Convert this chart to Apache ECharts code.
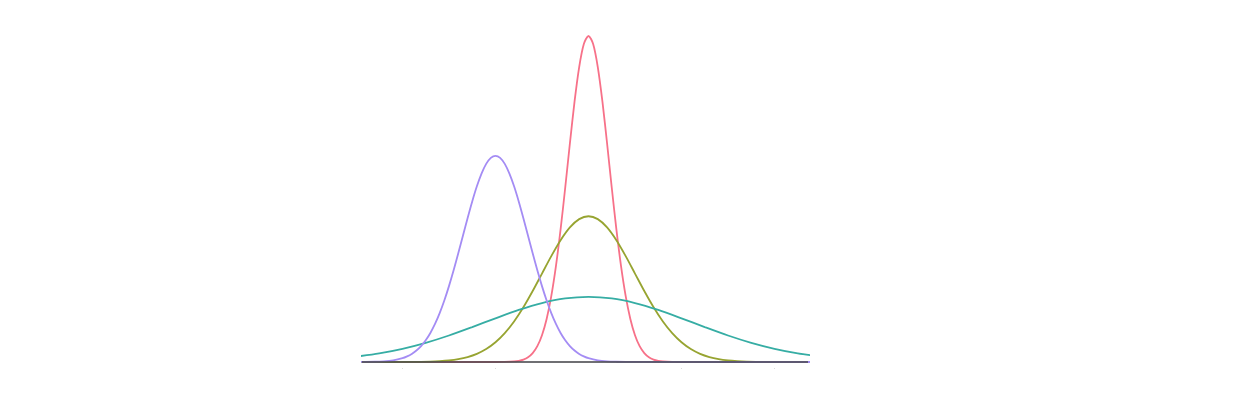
<!DOCTYPE html>
<html>
<head>
<meta charset="utf-8">
<script src="https://cdn.jsdelivr.net/npm/echarts@6/dist/echarts.min.js"></script>
<style>
  html, body { margin: 0; padding: 0; background: #fff; }
  #chart { width: 1256px; height: 402px; }
</style>
</head>
<body>
<div id="chart"></div>
<script>
// mu = 0, sigma^2 = 0.2
const redX = [-4.9, -2.0, -1.8, -1.6, -1.5, -1.4, -1.3, -1.2, -1.1, -1.0, -0.9, -0.8, -0.7, -0.6, -0.5, -0.4, -0.3, -0.2, -0.1, 0,
  0.1, 0.2, 0.3, 0.4, 0.5, 0.6, 0.7, 0.8, 0.9, 1.0, 1.1, 1.2, 1.3, 1.4, 1.5, 1.6, 1.8, 2.0, 4.8]
const redY = [0, 0, 0.0003, 0.0015, 0.0032, 0.0066, 0.0130, 0.0244, 0.0433, 0.0732, 0.1178, 0.1801, 0.2621, 0.3627, 0.4775, 0.5980, 0.7124, 0.8072, 0.8701, 0.8921,
  0.8701, 0.8072, 0.7124, 0.5980, 0.4775, 0.3627, 0.2621, 0.1801, 0.1178, 0.0732, 0.0433, 0.0244, 0.0130, 0.0066, 0.0032, 0.0015, 0.0003, 0, 0]

// mu = 0, sigma^2 = 1
const greenX = [-5, -4.4, -4.0, -3.8, -3.6, -3.4, -3.2, -3.0, -2.8, -2.6, -2.4, -2.2, -2.0, -1.8, -1.6, -1.4, -1.2, -1.0, -0.8, -0.6, -0.4, -0.2, 0,
  0.2, 0.4, 0.6, 0.8, 1.0, 1.2, 1.4, 1.6, 1.8, 2.0, 2.2, 2.4, 2.6, 2.8, 3.0, 3.2, 3.4, 3.6, 3.8, 4.0, 4.4, 5]
const greenY = [0, 0, 0.0001, 0.0003, 0.0006, 0.0012, 0.0024, 0.0044, 0.0079, 0.0136, 0.0224, 0.0355, 0.0540, 0.0790, 0.1109, 0.1497, 0.1942, 0.2420, 0.2897, 0.3332, 0.3683, 0.3910, 0.3989,
  0.3910, 0.3683, 0.3332, 0.2897, 0.2420, 0.1942, 0.1497, 0.1109, 0.0790, 0.0540, 0.0355, 0.0224, 0.0136, 0.0079, 0.0044, 0.0024, 0.0012, 0.0006, 0.0003, 0.0001, 0, 0]

// mu = 0, sigma^2 = 5
const tealX = [-5, -4.5, -4, -3.5, -3, -2.5, -2, -1.5, -1, -0.5, 0, 0.5, 1, 1.5, 2, 2.5, 3, 3.5, 4, 4.5, 5]
const tealY = [0.0146, 0.0235, 0.0360, 0.0524, 0.0725, 0.0955, 0.1196, 0.1425, 0.1614, 0.1740, 0.1784,
  0.1740, 0.1614, 0.1425, 0.1196, 0.0955, 0.0725, 0.0524, 0.0360, 0.0235, 0.0146]

// mu = -2, sigma^2 = 0.5
const purpleX = [-4.9, -4.6, -4.4, -4.2, -4.0, -3.9, -3.8, -3.7, -3.6, -3.5, -3.4, -3.3, -3.2, -3.1, -3.0, -2.9, -2.8, -2.7, -2.6, -2.5, -2.4, -2.3, -2.2, -2.1, -2.0,
  -1.9, -1.8, -1.7, -1.6, -1.5, -1.4, -1.3, -1.2, -1.1, -1.0, -0.9, -0.8, -0.7, -0.6, -0.5, -0.4, -0.3, -0.2, -0.1, 0, 0.2, 0.4, 0.6, 0.8, 1.0, 4.8]
const purpleY = [0.0001, 0.0007, 0.0018, 0.0045, 0.0103, 0.0153, 0.0221, 0.0314, 0.0436, 0.0595, 0.0795, 0.1041, 0.1337, 0.1682, 0.2076, 0.2510, 0.2975, 0.3456, 0.3936, 0.4394, 0.4808, 0.5156, 0.5421, 0.5586, 0.5642,
  0.5586, 0.5421, 0.5156, 0.4808, 0.4394, 0.3936, 0.3456, 0.2975, 0.2510, 0.2076, 0.1682, 0.1337, 0.1041, 0.0795, 0.0595, 0.0436, 0.0314, 0.0221, 0.0153, 0.0103, 0.0045, 0.0018, 0.0007, 0.0002, 0.0001, 0]

const xMin = -4.87
const xMax = 4.72

function pairs(xs, ys) {
  return xs.map((x, i) => [x, ys[i]])
}

function curve(name, xs, ys, color) {
  return {
    name: name,
    type: 'line',
    data: pairs(xs, ys),
    showSymbol: false,
    smooth: 0.3,
    lineStyle: { color: color, width: 1.8 },
    itemStyle: { color: color }
  }
}

const chart = echarts.init(document.getElementById('chart'))
chart.setOption({
  animation: false,
  grid: { left: 362, right: 448, top: 36, bottom: 40 },
  xAxis: {
    type: 'value',
    min: xMin,
    max: xMax,
    splitNumber: 5,
    axisLine: { show: false },
    axisTick: { show: false },
    splitLine: { show: false },
    axisLabel: {
      color: '#d4d4d4',
      fontSize: 8,
      margin: 3,
      formatter: v => (Math.abs(v - Math.round(v)) < 1e-9 && v !== 0) ? '·' : ''
    }
  },
  yAxis: {
    type: 'value',
    min: 0,
    max: 'dataMax',
    show: false
  },
  series: [
    curve('μ=0, σ²=0.2', redX, redY, '#f77189'),
    curve('μ=0, σ²=1', greenX, greenY, '#97a431'),
    curve('μ=0, σ²=5', tealX, tealY, '#36ada4'),
    curve('μ=−2, σ²=0.5', purpleX, purpleY, '#a48cf4'),
    {
      // baseline at y = 0, drawn over the curve tails
      name: 'baseline',
      type: 'line',
      data: [[xMin, 0], [xMax, 0]],
      showSymbol: false,
      z: 3,
      lineStyle: { color: 'rgba(75,75,80,0.8)', width: 2 },
      silent: true
    }
  ]
})
</script>
</body>
</html>
